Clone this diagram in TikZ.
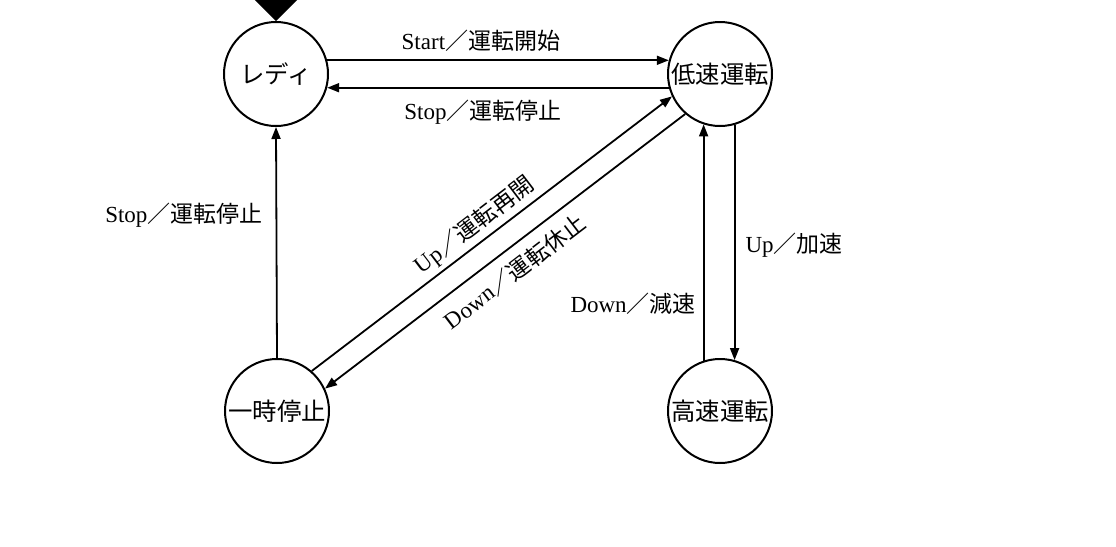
\documentclass[tikz,border=0pt]{standalone}
\usepackage{fontspec}
\setmainfont{Liberation Serif}
\newfontfamily\cjk{Noto Sans CJK JP}
\usetikzlibrary{arrows.meta}
\tikzset{
  state/.style={draw, circle, line width=1pt, minimum size=52pt, inner sep=0pt,
    font=\cjk\fontsize{12.2}{14}\selectfont},
  trans/.style={line width=0.9pt, -{Triangle[length=6pt,width=4.5pt]}},
  rtrans/.style={line width=0.9pt, {Triangle[length=6pt,width=4.5pt]}-},
  lbl/.style={inner sep=0pt, font=\fontsize{11.5}{13}\selectfont},
}
\begin{document}
\begin{tikzpicture}[x=0.5pt,y=-0.5pt]
\useasboundingbox (0,0) rectangle (1116,547);
\node[state] (ready) at (276,74) {レディ};
\node[state] (low) at (720,74) {低速運転};
\node[state] (hold) at (277,411) {一時停止};
\node[state] (high) at (720,411) {高速運転};
% initial marker
\fill (ready.north) -- ++(-24,-24) -- ++(48,0) -- cycle;
% horizontal
\draw[trans] (ready.15) -- node[lbl, pos=0.45, yshift=10pt] {Start{\cjk ／運転開始}} (low.165);
\draw[rtrans] (ready.345) -- node[lbl, pos=0.456, yshift=-12pt] {Stop{\cjk ／運転停止}} (low.195);
% left vertical
\draw[trans] (hold.north) -- node[lbl, pos=0.62, anchor=east, xshift=-6.5pt] {Stop{\cjk ／運転停止}} (ready.south);
% diagonals
\draw[trans] (hold.49.5) -- node[lbl, pos=0.48, sloped, above=2pt] {Up{\cjk ／運転再開}} (low.205.1);
\draw[rtrans] (hold.25.1) -- node[lbl, pos=0.49, sloped, below=5pt] {Down{\cjk ／運転休止}} (low.229.5);
% right verticals
\draw[trans] (low.286) -- node[lbl, pos=0.51, anchor=west, xshift=5pt] {Up{\cjk ／加速}} (high.74);
\draw[trans] (high.108) -- node[lbl, pos=0.24, anchor=east, xshift=-3.5pt] {Down{\cjk ／減速}} (low.252);
\end{tikzpicture}
\end{document}
